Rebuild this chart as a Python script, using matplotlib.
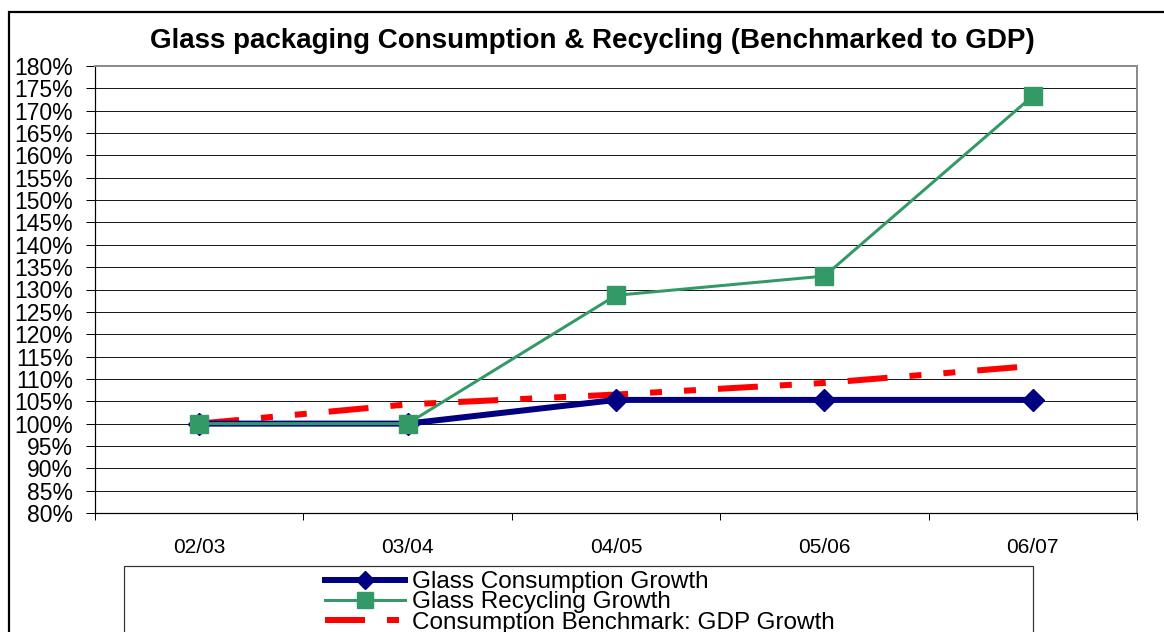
import numpy as np
import matplotlib
matplotlib.use("Agg")
import matplotlib.pyplot as plt
from matplotlib.lines import Line2D
from matplotlib.patches import Rectangle

# ---- data -------------------------------------------------------------
years = ["02/03", "03/04", "04/05", "05/06", "06/07"]
consumption_growth = [100.0, 100.0, 105.3, 105.3, 105.3]
recycling_growth = [100.0, 100.0, 128.7, 133.0, 173.3]
gdp_growth = [100.0, 104.3, 106.5, 109.1, 112.9]
y_ticks = list(range(80, 181, 5))
y_tick_labels = [f"{v}%" for v in y_ticks]

series_labels = ["Glass Consumption Growth",
                 "Glass Recycling Growth",
                 "Consumption Benchmark: GDP Growth"]
title = "Glass packaging Consumption & Recycling (Benchmarked to GDP)"

# ---- figure geometry (pixels) ------------------------------------------
W, H, DPI = 1164, 632, 100
plt.rcParams["font.family"] = ["Liberation Sans", "DejaVu Sans"]
plt.rcParams["lines.scale_dashes"] = False

fig = plt.figure(figsize=(W / DPI, H / DPI), dpi=DPI, facecolor="white")


def fx(px):
    return px / W


def fy(py):
    return 1 - py / H


PT = 72.0 / DPI  # points per pixel

left, right, top, bottom = 95, 1137, 66, 513
ax = fig.add_axes([fx(left), fy(bottom), fx(right - left), (bottom - top) / H])

x = np.arange(len(years))

NAVY = "#000080"
GREEN = "#339966"
RED = "#FF0000"
gdp_dashes = (40 * PT, 22 * PT, 12 * PT, 22 * PT, 12 * PT, 22 * PT)

ax.plot(x, gdp_growth, color=RED, lw=6 * PT, dashes=gdp_dashes,
        dash_capstyle="butt", zorder=3)
ax.plot(x, consumption_growth, color=NAVY, lw=6 * PT, marker="D",
        ms=15 * PT, mfc=NAVY, mec=NAVY, zorder=4)
ax.plot(x, recycling_growth, color=GREEN, lw=3 * PT, marker="s",
        ms=18 * PT, mfc=GREEN, mec=GREEN, zorder=5)

# axes ranges and ticks
ax.set_xlim(-0.5, len(years) - 0.5)
ax.set_ylim(80, 180)
ax.set_yticks(y_ticks)
ax.set_yticklabels(y_tick_labels)
ax.set_xticks(x)
ax.set_xticklabels(years)
ax.set_xticks(np.arange(-0.5, len(years), 1.0), minor=True)

ax.tick_params(axis="y", which="major", direction="out", length=9 * PT,
               width=1 * PT, pad=13 * PT, labelsize=16.5, colors="black")
ax.tick_params(axis="x", which="major", length=0, pad=25 * PT,
               labelsize=15, colors="black")
ax.tick_params(axis="x", which="minor", direction="out", length=7 * PT,
               width=1 * PT)

ax.yaxis.grid(True, color="#1a1a1a", lw=1 * PT, zorder=0)
ax.set_axisbelow(True)

for side in ("left", "bottom"):
    ax.spines[side].set_color("black")
    ax.spines[side].set_linewidth(1.2 * PT)
for side in ("top", "right"):
    ax.spines[side].set_color("#8c8c8c")
    ax.spines[side].set_linewidth(2 * PT)

# chart title
fig.text(fx(592), fy(48), title, ha="center", va="baseline",
         fontsize=20, fontweight="bold", color="black")

# outer chart frame
fig.patches.append(Rectangle((fx(9), fy(700)), fx(1300), (700 - 12) / H,
                             transform=fig.transFigure, fill=False,
                             ec="black", lw=2.2 * PT))

# legend frame and entries
fig.patches.append(Rectangle((fx(124), fy(700)), fx(1033 - 124),
                             (700 - 566) / H, transform=fig.transFigure,
                             fill=False, ec="#333333", lw=1.2 * PT))

handles = [
    Line2D([], [], color=NAVY, lw=6 * PT, marker="D", ms=13 * PT,
           mfc=NAVY, mec=NAVY),
    Line2D([], [], color=GREEN, lw=3 * PT, marker="s", ms=16 * PT,
           mfc=GREEN, mec=GREEN),
    Line2D([], [], color=RED, lw=6 * PT, dashes=gdp_dashes,
           dash_capstyle="butt"),
]
leg_fs = 17.5
leg_px = leg_fs / PT
fig.legend(handles, series_labels, loc="upper left",
           bbox_to_anchor=(fx(325), fy(571)), bbox_transform=fig.transFigure,
           frameon=False, fontsize=leg_fs, numpoints=1,
           handlelength=80 / leg_px, handletextpad=7 / leg_px,
           labelspacing=-0.07, borderpad=0, borderaxespad=0)

fig.savefig("out.png", dpi=DPI, facecolor="white")
